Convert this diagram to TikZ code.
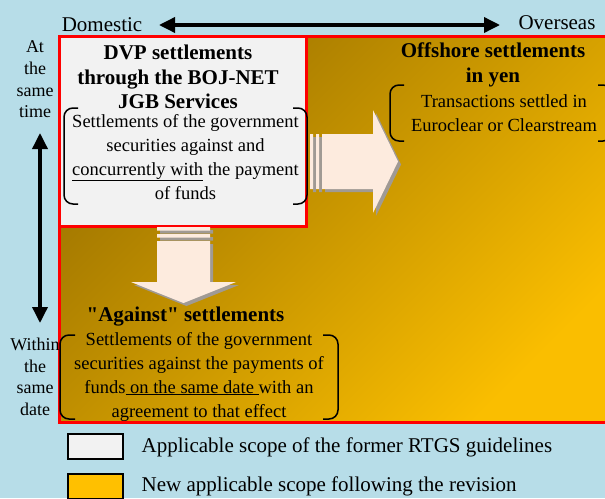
\documentclass[tikz,border=0pt]{standalone}
\usepackage{fontspec}
\setmainfont{Liberation Serif}[Ligatures=TeXOff]
\usetikzlibrary{positioning,calc,arrows.meta}
\definecolor{skyback}{RGB}{183,221,232}
\definecolor{golddark}{RGB}{158,116,0}
\definecolor{goldlight}{RGB}{250,190,0}
\definecolor{goldkey}{RGB}{255,192,0}
\definecolor{palegray}{RGB}{242,242,242}
\definecolor{peach}{RGB}{253,235,222}
\definecolor{shadowgray}{RGB}{160,154,148}
\tikzset{
    % standard arrow tip
    >={Triangle[length=16pt,width=15pt]},
    % black double arrows
    pil/.style={
           <->,
           line width=3.5pt,
           black,},
    % round brackets around the texts
    brk/.style={line width=1.5pt, rounded corners=9pt}
}
\newcommand{\bodysize}{\fontsize{18.5}{24}\selectfont}
\newcommand{\headsize}{\fontsize{21}{24.5}\selectfont\bfseries}

\begin{document}
\begin{tikzpicture}[x=1pt, y=-1pt, outer sep=0pt]
\tikzstyle{scopebox}=[draw=red, line width=3pt]
%
\tikzstyle{headtext}=[font=\headsize, align=center, inner sep=0pt, anchor=north]
%
\tikzstyle{bodytext}=[font=\bodysize, align=center, inner sep=0pt, anchor=north]
%
\tikzstyle{sidetext}=[font=\fontsize{18}{21.7}\selectfont, align=center, inner sep=0pt, anchor=north]
%
\tikzstyle{keybox}=[draw=black, line width=2pt, minimum width=55pt, minimum height=25pt, inner sep=0pt]
%
\tikzstyle{keytext}=[font=\fontsize{21}{24}\selectfont, inner sep=0pt, anchor=base west]

\fill[skyback] (0,0) rectangle (605,498);
\useasboundingbox (0,0) rectangle (605,498);

% scopes
\draw[scopebox, top color=golddark, bottom color=goldlight, shading angle=45] (59,36.5) rectangle (612,422);
\draw[scopebox, fill=palegray] (59,36.5) rectangle (306.5,226.5);

% block arrows (shadow first)
\foreach \sh/\col in {3/shadowgray,0/peach}{
  \begin{scope}[shift={(\sh,\sh)}]
    \fill[\col] (310,134) rectangle (313,189) (316,134) rectangle (319,189);
    \fill[\col] (322,134) -- (373,134) -- (373,110) -- (398,161.5) -- (373,213) -- (373,189) -- (322,189) -- cycle;
    \fill[\col] (157,227) rectangle (210,230.5) (157,234) rectangle (210,237.5);
    \fill[\col] (157,241) -- (157,282) -- (131,282) -- (183.5,303) -- (236,282) -- (210,282) -- (210,241) -- cycle;
  \end{scope}
}

% axis labels
\node[font=\fontsize{21}{24}\selectfont, inner sep=0pt, anchor=base] (domestic) at (102,31.5) {Domestic};
\node[font=\fontsize{21}{24}\selectfont, inner sep=0pt, anchor=base] (overseas) at (557,29.5) {Overseas};
\coordinate (westend) at (159,25);
\coordinate (eastend) at (500,25);
\draw[pil] (westend) -- (eastend);

\node[sidetext] (sametime) at (35,41) {At\\ the\\ same\\ time};
\node[sidetext] (samedate) at (35,338) {Within\\ the\\ same\\ date};
\coordinate (nowtop) at (40,133);
\coordinate (nowbottom) at (40,323);
\draw[pil] (nowtop) -- (nowbottom);

% DVP
\node[headtext] (dvptitle) at (178,45) {DVP settlements\\ through the BOJ-NET\\ JGB Services};
\node[bodytext] (dvpbody) at (185.5,114) {Settlements of the government\\ securities against and\\ \underline{concurrently with} the payment\\ of funds};
\draw[brk] (78,108) -- (64,108) -- (64,204) -- (78,204);
\draw[brk] (293,108) -- (307,108) -- (307,204) -- (293,204);

% offshore
\node[headtext] (offtitle) at (493,43) {Offshore settlements\\ in yen};
\node[bodytext] (offbody) at (504,94.5) {Transactions settled in\\ Euroclear or Clearstream};
\draw[brk] (404,85) -- (390,85) -- (390,141) -- (404,141);
\draw[brk] (598,85) -- (612,85) -- (612,141) -- (598,141);

% against
\node[headtext] (agtitle) at (185.5,307) {"Against" settlements};
\node[bodytext] (agbody) at (199,332) {Settlements of the government\\ securities against the payments of\\ funds\underline{\ on the same date\ }with an\\ agreement to that effect};
\draw[brk] (75,335) -- (60,335) -- (60,419) -- (75,419);
\draw[brk] (323,335) -- (338,335) -- (338,419) -- (323,419);

% legend
\node[keybox, fill=palegray] (keyold) at (95.8,446.7) {};
\node[keybox, fill=goldkey] (keynew) at (95.8,486) {};
\node[keytext] (keyoldtext) at (141.7,452.3) {Applicable scope of the former RTGS guidelines};
\node[keytext] (keynewtext) at (141.7,491.7) {New applicable scope following the revision};

\end{tikzpicture}
\end{document}
